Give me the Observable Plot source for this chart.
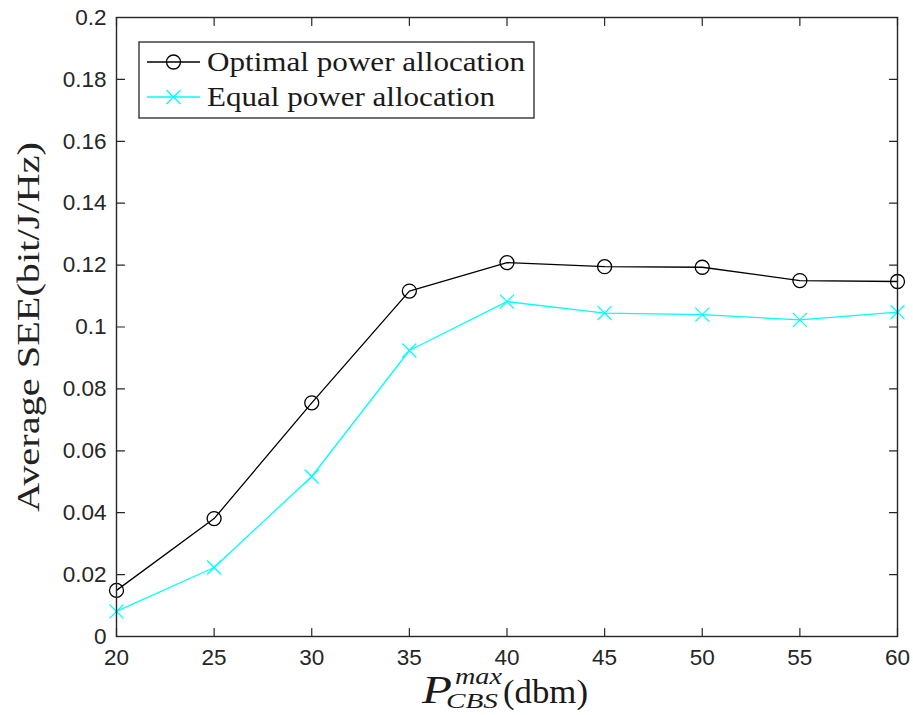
<!DOCTYPE html>
<html>
<head>
<meta charset="utf-8">
<script src="https://cdn.jsdelivr.net/npm/d3@7"></script>
<script src="https://cdn.jsdelivr.net/npm/@observablehq/plot@0.6"></script>
<style>
  html, body { margin: 0; padding: 0; background: #fff; }
  #wrap { position: relative; width: 913px; height: 715px; }
  #wrap svg { position: absolute; left: 0; top: 0; }
</style>
</head>
<body>
<div id="wrap"></div>
<script>
// ---- data ----
const powerDbm = [20, 25, 30, 35, 40, 45, 50, 55, 60];
const optimalSEE = [0.0149, 0.0381, 0.0755, 0.1116, 0.1208, 0.1195, 0.1193, 0.1150, 0.1147];
const equalSEE   = [0.0081, 0.0223, 0.0517, 0.0924, 0.1082, 0.1045, 0.1040, 0.1023, 0.1048];
const xTicks = [20, 25, 30, 35, 40, 45, 50, 55, 60];
const yTicks = [0, 0.02, 0.04, 0.06, 0.08, 0.1, 0.12, 0.14, 0.16, 0.18, 0.2];
const seriesNames = ["Optimal power allocation", "Equal power allocation"];
const seriesColors = ["#000000", "#00FFFF"];
const yLabel = "Average SEE(bit/J/Hz)";

const optRows = powerDbm.map((x, i) => ({x, y: optimalSEE[i]}));
const eqRows = powerDbm.map((x, i) => ({x, y: equalSEE[i]}));

const axisColor = "#262626";
const tickShape = {draw(context, l) { context.moveTo(0, 0); context.lineTo(0, -l); }};
const tl = 8;

const chart = Plot.plot({
  width: 913,
  height: 715,
  marginLeft: 116,
  marginRight: 16,
  marginTop: 17,
  marginBottom: 79,
  style: {fontFamily: "'Liberation Sans', Arial, sans-serif", background: "#fff", color: axisColor},
  x: {domain: [20, 60], label: null},
  y: {domain: [0, 0.2], label: null},
  marks: [
    Plot.axisX({ticks: xTicks, tickSize: 0, tickPadding: 13, fontSize: 22.5, label: null}),
    Plot.axisY({ticks: yTicks, tickSize: 0, tickPadding: 10, fontSize: 22.5, label: null, tickFormat: d3.format("~g")}),
    // inward ticks on all four sides
    Plot.vector(xTicks, {x: d => d, y: 0, length: tl, rotate: 0, anchor: "start", shape: tickShape, stroke: axisColor, strokeWidth: 1.2}),
    Plot.vector(xTicks, {x: d => d, y: 0.2, length: tl, rotate: 180, anchor: "start", shape: tickShape, stroke: axisColor, strokeWidth: 1.2}),
    Plot.vector(yTicks, {x: 20, y: d => d, length: tl, rotate: 90, anchor: "start", shape: tickShape, stroke: axisColor, strokeWidth: 1.2}),
    Plot.vector(yTicks, {x: 60, y: d => d, length: tl, rotate: 270, anchor: "start", shape: tickShape, stroke: axisColor, strokeWidth: 1.2}),
    Plot.line(optRows, {x: "x", y: "y", stroke: seriesColors[0], strokeWidth: 1.3}),
    Plot.dot(optRows, {x: "x", y: "y", r: 7, stroke: seriesColors[0], strokeWidth: 1.3, fill: "none"}),
    Plot.line(eqRows, {x: "x", y: "y", stroke: seriesColors[1], strokeWidth: 1.3}),
    Plot.dot(eqRows, {x: "x", y: "y", r: 6.4, symbol: "times", stroke: seriesColors[1], strokeWidth: 1.3}),
    Plot.frame({stroke: axisColor, strokeWidth: 1.4})
  ]
});
document.getElementById("wrap").appendChild(chart);

// ---- overlay: legend and axis titles ----
const ns = "http://www.w3.org/2000/svg";
const ov = d3.select("#wrap").append("svg")
  .attr("xmlns", ns).attr("width", 913).attr("height", 715)
  .style("pointer-events", "none");

const serif = "'Liberation Serif', 'DejaVu Serif', serif";

// legend
const lg = ov.append("g");
lg.append("rect").attr("x", 139).attr("y", 42).attr("width", 395).attr("height", 76)
  .attr("fill", "#fff").attr("stroke", axisColor).attr("stroke-width", 1.3);
const rowsY = [62, 97];
seriesNames.forEach((name, i) => {
  const y = rowsY[i];
  lg.append("line").attr("x1", 147).attr("x2", 200).attr("y1", y).attr("y2", y)
    .attr("stroke", seriesColors[i]).attr("stroke-width", 1.3);
  if (i === 0) {
    lg.append("circle").attr("cx", 173.5).attr("cy", y).attr("r", 7)
      .attr("fill", "none").attr("stroke", seriesColors[i]).attr("stroke-width", 1.3);
  } else {
    const s = 7;
    lg.append("path").attr("d", `M${173.5 - s},${y - s}L${173.5 + s},${y + s}M${173.5 - s},${y + s}L${173.5 + s},${y - s}`)
      .attr("stroke", seriesColors[i]).attr("stroke-width", 1.3);
  }
  lg.append("text").attr("x", 207).attr("y", y + 9)
    .attr("font-family", serif).attr("font-size", 27).attr("fill", "#1a1a1a")
    .attr("textLength", i === 0 ? 318 : 288).attr("lengthAdjust", "spacingAndGlyphs")
    .text(name);
});

// y axis title
ov.append("text")
  .attr("transform", "translate(39,327) rotate(-90)")
  .attr("text-anchor", "middle")
  .attr("font-family", serif).attr("font-size", 31).attr("fill", "#222")
  .attr("textLength", 370).attr("lengthAdjust", "spacingAndGlyphs")
  .text(yLabel);

// x axis title: P_CBS^max(dbm)
const xt = ov.append("g").attr("font-family", serif).attr("fill", "#1a1a1a");
xt.append("text").attr("x", 422).attr("y", 703).attr("font-size", 40).attr("font-style", "italic")
  .attr("textLength", 30).attr("lengthAdjust", "spacingAndGlyphs").text("P");
xt.append("text").attr("x", 455).attr("y", 684).attr("font-size", 23).attr("font-style", "italic")
  .attr("textLength", 47).attr("lengthAdjust", "spacingAndGlyphs").text("max");
xt.append("text").attr("x", 446).attr("y", 708).attr("font-size", 22).attr("font-style", "italic")
  .attr("textLength", 52).attr("lengthAdjust", "spacingAndGlyphs").text("CBS");
xt.append("text").attr("x", 503).attr("y", 703).attr("font-size", 33)
  .attr("textLength", 85).attr("lengthAdjust", "spacingAndGlyphs").text("(dbm)");
</script>
</body>
</html>
